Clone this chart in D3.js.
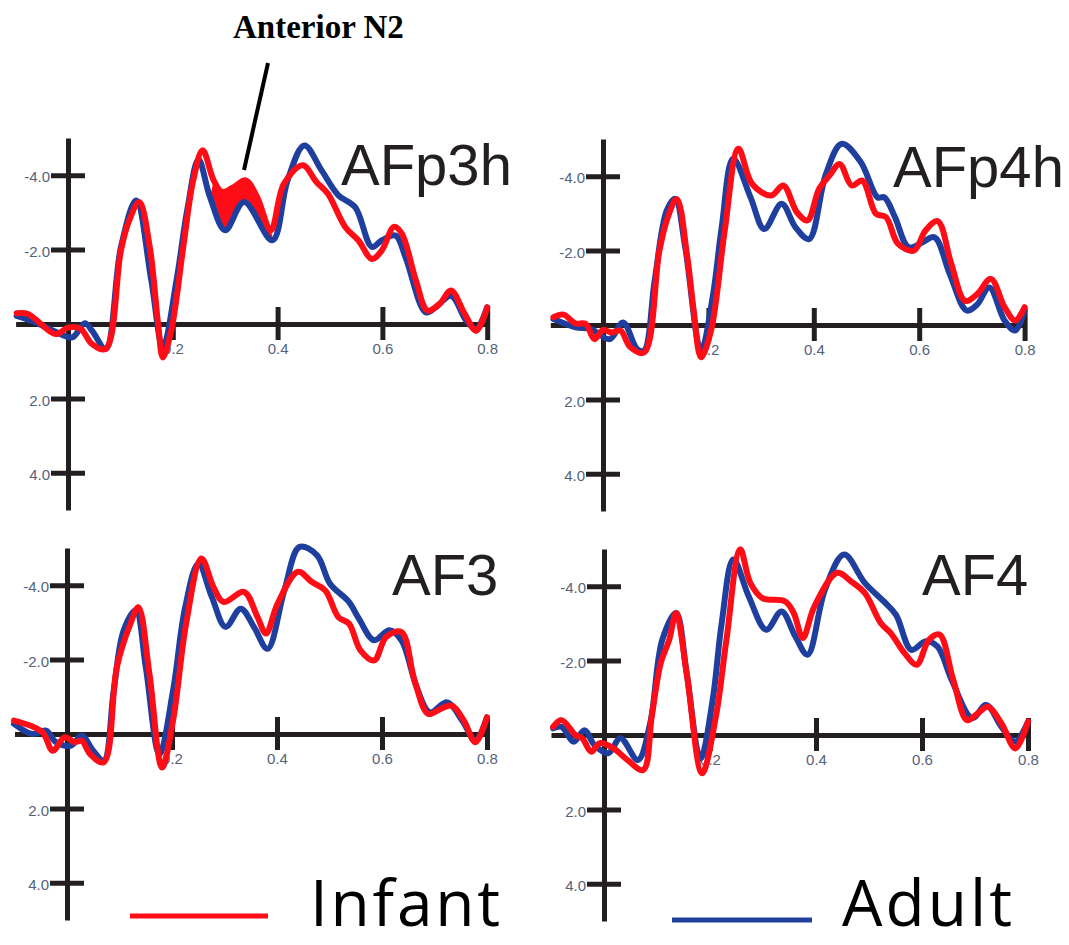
<!DOCTYPE html>
<html>
<head>
<meta charset="utf-8">
<script src="https://cdn.jsdelivr.net/npm/d3@7"></script>
<style>
  body { margin: 0; background: #fff; }
</style>
</head>
<body>
<div id="chart"></div>
<script>
// ERP waveforms, [time (s), amplitude (µV)] (negative is up)
const afp3hInfant = [[-0.098,-0.29],[-0.076,-0.27],[-0.024,0.27],[0.001,0.09],[0.024,0.13],[0.046,0.54],[0.072,0.67],[0.101,-1.98],[0.117,-2.79],[0.136,-3.28],[0.156,-2.07],[0.172,0],[0.181,0.9],[0.197,0.18],[0.22,-2.07],[0.239,-3.86],[0.257,-4.67],[0.278,-3.86],[0.294,-3.55],[0.316,-3.68],[0.339,-3.86],[0.361,-3.41],[0.387,-2.52],[0.412,-3.77],[0.448,-4.27],[0.474,-3.82],[0.496,-3.5],[0.529,-2.61],[0.554,-2.25],[0.58,-1.75],[0.599,-1.98],[0.622,-2.61],[0.637,-2.43],[0.664,-1.17],[0.686,-0.36],[0.709,-0.54],[0.731,-0.9],[0.757,-0.27],[0.779,0.18],[0.8,-0.45]]
const afp3hAdult = [[-0.098,-0.22],[-0.063,-0.05],[-0.028,0.18],[0.008,0.36],[0.032,-0.02],[0.046,0.18],[0.072,0.67],[0.101,-2.07],[0.13,-3.32],[0.159,-1.17],[0.181,0.63],[0.207,-1.17],[0.228,-3.1],[0.249,-4.42],[0.271,-3.41],[0.3,-2.52],[0.336,-3.28],[0.39,-2.25],[0.419,-3.86],[0.451,-4.8],[0.484,-4.13],[0.516,-3.46],[0.548,-3.14],[0.58,-2.07],[0.599,-2.25],[0.625,-2.38],[0.644,-1.8],[0.683,-0.31],[0.702,-0.45],[0.731,-0.76],[0.76,-0.09],[0.779,0.13],[0.8,-0.45]]

const afp4hInfant = [[-0.094,-0.21],[-0.075,-0.28],[-0.052,-0.04],[-0.033,-0.03],[-0.016,0.38],[0,0.13],[0.016,0.2],[0.033,0.15],[0.052,0.6],[0.078,0.74],[0.107,-2.0],[0.123,-2.9],[0.14,-3.39],[0.16,-1.82],[0.172,-0.4],[0.186,0.87],[0.205,0.15],[0.231,-2.54],[0.257,-4.74],[0.283,-3.79],[0.319,-3.48],[0.342,-3.75],[0.368,-3.03],[0.388,-2.81],[0.41,-3.66],[0.43,-4.02],[0.449,-4.33],[0.472,-3.75],[0.492,-3.88],[0.518,-2.99],[0.537,-2.9],[0.56,-2.18],[0.59,-2.0],[0.612,-2.54],[0.635,-2.79],[0.661,-1.64],[0.687,-0.65],[0.71,-0.83],[0.736,-1.24],[0.762,-0.48],[0.782,-0.12],[0.8,-0.48]]
const afp4hAdult = [[-0.094,-0.16],[-0.052,0.06],[-0.023,0.11],[0.013,0.38],[0.038,-0.07],[0.065,0.65],[0.078,0.69],[0.098,-1.19],[0.121,-3.08],[0.137,-3.39],[0.156,-2.09],[0.186,0.69],[0.208,-0.74],[0.225,-2.6],[0.247,-4.47],[0.28,-3.43],[0.306,-2.58],[0.339,-3.26],[0.365,-2.63],[0.391,-2.31],[0.423,-4.06],[0.453,-4.87],[0.489,-4.38],[0.521,-3.43],[0.534,-3.43],[0.554,-2.9],[0.58,-2.09],[0.606,-2.22],[0.629,-2.36],[0.658,-1.37],[0.69,-0.39],[0.71,-0.55],[0.733,-1.01],[0.762,-0.12],[0.782,0.15],[0.8,-0.39]]

const af3Infant = [[-0.101,-0.36],[-0.069,-0.22],[-0.046,-0.04],[-0.027,0.45],[-0.005,0.09],[0.015,0.22],[0.028,0.18],[0.044,0.54],[0.07,0.76],[0.095,-1.8],[0.121,-2.97],[0.136,-3.41],[0.157,-1.62],[0.181,0.9],[0.202,-0.36],[0.227,-2.97],[0.256,-4.72],[0.279,-3.95],[0.298,-3.55],[0.337,-3.82],[0.363,-3.14],[0.379,-2.7],[0.401,-3.5],[0.44,-4.36],[0.466,-4.09],[0.492,-3.86],[0.517,-3.14],[0.537,-2.97],[0.559,-2.25],[0.585,-1.98],[0.608,-2.61],[0.637,-2.74],[0.662,-1.44],[0.688,-0.54],[0.711,-0.67],[0.733,-0.76],[0.756,-0.36],[0.778,0.22],[0.8,-0.45]]
const af3Adult = [[-0.101,-0.27],[-0.066,0],[-0.04,-0.09],[-0.021,0.22],[0.008,0.31],[0.028,0.04],[0.05,0.45],[0.07,0.72],[0.089,-1.17],[0.108,-2.79],[0.131,-3.32],[0.15,-1.8],[0.176,0.54],[0.202,-1.17],[0.225,-3.4],[0.25,-4.58],[0.276,-3.68],[0.302,-2.88],[0.331,-3.37],[0.356,-2.88],[0.382,-2.29],[0.414,-3.86],[0.443,-5.03],[0.476,-4.81],[0.501,-4.04],[0.537,-3.55],[0.556,-3.1],[0.585,-2.52],[0.614,-2.79],[0.637,-2.52],[0.666,-1.26],[0.691,-0.58],[0.724,-0.85],[0.753,-0.36],[0.778,0.18],[0.8,-0.45]]

const af4Infant = [[-0.096,-0.22],[-0.08,-0.4],[-0.054,0],[-0.041,0.09],[-0.024,0.45],[-0.008,0.22],[0.018,0.36],[0.044,0.67],[0.074,0.94],[0.09,-0.49],[0.107,-1.93],[0.123,-2.56],[0.136,-3.28],[0.156,-1.66],[0.185,1.03],[0.211,-0.49],[0.231,-2.56],[0.257,-4.99],[0.276,-4.09],[0.299,-3.68],[0.342,-3.59],[0.358,-3.28],[0.375,-2.61],[0.397,-3.46],[0.44,-4.36],[0.466,-4.13],[0.492,-3.82],[0.522,-3.01],[0.541,-2.74],[0.567,-2.2],[0.59,-1.89],[0.613,-2.56],[0.633,-2.7],[0.659,-1.48],[0.685,-0.4],[0.705,-0.58],[0.724,-0.76],[0.75,-0.31],[0.776,0.36],[0.8,-0.36]]
const af4Adult = [[-0.096,-0.18],[-0.08,-0.22],[-0.057,0.18],[-0.037,-0.13],[-0.018,0.27],[0.008,0.49],[0.031,0.09],[0.064,0.67],[0.087,-0.31],[0.11,-2.56],[0.136,-3.28],[0.156,-1.66],[0.182,0.63],[0.205,-0.94],[0.222,-3.0],[0.244,-4.72],[0.273,-3.73],[0.306,-2.83],[0.335,-3.32],[0.361,-2.65],[0.384,-2.16],[0.417,-3.91],[0.453,-4.85],[0.492,-4.09],[0.528,-3.59],[0.551,-3.23],[0.58,-2.29],[0.607,-2.52],[0.629,-2.38],[0.656,-1.48],[0.695,-0.45],[0.721,-0.81],[0.75,-0.22],[0.776,0.18],[0.8,-0.36]]

const panelNames = ["AFp3h", "AFp4h", "AF3", "AF4"]
const infantSeries = [afp3hInfant, afp4hInfant, af3Infant, af4Infant]
const adultSeries = [afp3hAdult, afp4hAdult, af3Adult, af4Adult]
const seriesNames = ["Infant", "Adult"]

const xTicks = [0.2, 0.4, 0.6, 0.8]
const xTickLabels = ["0.2", "0.4", "0.6", "0.8"]
const yTicks = [-4, -2, 2, 4]
const yTickLabels = ["-4.0", "-2.0", "2.0", "4.0"]

// shaded N2 difference window in the first panel (s)
const n2Window = [0.27, 0.392]

// page layout
const width = 1069, height = 945
const axisColor = "#231f20"
const infantColor = "#ff0d17"
const adultColor = "#1f3f9f"
const panels = [
    { ox: 68,  oy: 324, pxPerSec: 524, titleX: 341, titleY: 185 },
    { ox: 603, oy: 325, pxPerSec: 527, titleX: 893, titleY: 187 },
    { ox: 67,  oy: 734, pxPerSec: 525, titleX: 392, titleY: 595 },
    { ox: 604, oy: 735, pxPerSec: 530, titleX: 922, titleY: 595 }
]

const svg = d3.select("#chart")
  .append("svg")
    .attr("width", width)
    .attr("height", height)
    .style("display", "block")

panels.forEach((p, i) => drawPanel(p, i))

function drawPanel(p, i) {
    const g = svg.append("g")

    const x = d3.scaleLinear()
        .domain([-0.1, 0.8])
        .range([p.ox - 0.1 * p.pxPerSec, p.ox + 0.8 * p.pxPerSec])
    const y = d3.scaleLinear()
        .domain([-5, 5])
        .range([p.oy - 186, p.oy + 186])

    // x axis
    const gx = g.append("g")
        .attr("transform", `translate(0,${p.oy})`)
        .call(d3.axisBottom(x)
            .tickValues(xTicks)
            .tickFormat((d, k) => xTickLabels[k])
            .tickSizeOuter(0))
    gx.select(".domain").attr("stroke", axisColor).attr("stroke-width", 5)
    gx.selectAll(".tick line")
        .attr("y1", -17).attr("y2", 16)
        .attr("stroke", axisColor).attr("stroke-width", 5)
    gx.selectAll(".tick text")
        .attr("y", 25).attr("dy", "0.35em")
        .attr("fill", "#536379")
        .style("font", "15px 'Liberation Sans', Arial, sans-serif")

    // y axis
    const gy = g.append("g")
        .attr("transform", `translate(${p.ox},0)`)
        .call(d3.axisLeft(y)
            .tickValues(yTicks)
            .tickFormat((d, k) => yTickLabels[k])
            .tickSizeOuter(0))
    gy.select(".domain").attr("stroke", axisColor).attr("stroke-width", 5)
    gy.selectAll(".tick line")
        .attr("x1", -17).attr("x2", 17)
        .attr("stroke", axisColor).attr("stroke-width", 5)
    gy.selectAll(".tick text")
        .attr("x", -18).attr("dy", "0.45em")
        .attr("fill", "#536379")
        .style("font", "15px 'Liberation Sans', Arial, sans-serif")

    const line = d3.line()
        .curve(d3.curveCatmullRom.alpha(0.5))
        .x(d => x(d[0]))
        .y(d => y(d[1]))

    // red shading between the waves (Anterior N2), first panel only
    if (i === 0) {
        const top = infantSeries[0].filter(d => d[0] >= n2Window[0] && d[0] <= n2Window[1])
        const bottom = adultSeries[0].filter(d => d[0] >= n2Window[0] && d[0] <= n2Window[1]).reverse()
        g.append("path")
            .attr("d", line(top.concat(bottom)) + "Z")
            .attr("fill", infantColor)
    }

    g.append("path")
        .datum(adultSeries[i])
        .attr("fill", "none")
        .attr("stroke", adultColor)
        .attr("stroke-width", 6)
        .attr("stroke-linejoin", "round")
        .attr("stroke-linecap", "round")
        .attr("d", line)

    g.append("path")
        .datum(infantSeries[i])
        .attr("fill", "none")
        .attr("stroke", infantColor)
        .attr("stroke-width", 6)
        .attr("stroke-linejoin", "round")
        .attr("stroke-linecap", "round")
        .attr("d", line)

    // electrode name
    g.append("text")
        .attr("x", p.titleX)
        .attr("y", p.titleY)
        .attr("fill", axisColor)
        .style("font", "58px 'Liberation Sans', Arial, sans-serif")
        .text(panelNames[i])
}

// annotation
svg.append("text")
    .attr("x", 233)
    .attr("y", 38)
    .attr("fill", "#000")
    .style("font", "bold 33px 'Liberation Serif', 'Times New Roman', serif")
    .text("Anterior N2")
svg.append("line")
    .attr("x1", 268).attr("y1", 63)
    .attr("x2", 244).attr("y2", 170)
    .attr("stroke", "#000")
    .attr("stroke-width", 4)

// legend (kept just inside the bottom edge)
const legend = [
    { name: seriesNames[0], color: infantColor, x1: 130, x2: 268, ly: 916, tx: 310, tw: 190 },
    { name: seriesNames[1], color: adultColor, x1: 672, x2: 812, ly: 920, tx: 842, tw: 170 }
]
legend.forEach(l => {
    svg.append("line")
        .attr("x1", l.x1).attr("x2", l.x2)
        .attr("y1", l.ly).attr("y2", l.ly)
        .attr("stroke", l.color)
        .attr("stroke-width", 5)
    svg.append("text")
        .attr("x", l.tx)
        .attr("y", 926)
        .attr("fill", "#000")
        .attr("textLength", l.tw)
        .attr("lengthAdjust", "spacing")
        .style("font", "64px 'Open Sans', sans-serif")
        .text(l.name)
})
</script>
</body>
</html>
